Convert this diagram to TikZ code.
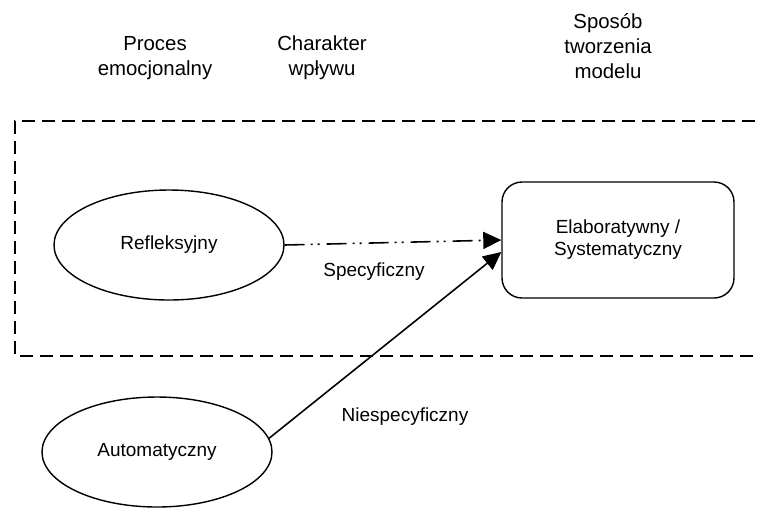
\documentclass[tikz,border=0pt]{standalone}
\usepackage{fontspec}
\setmainfont{Liberation Sans}
\usetikzlibrary{arrows.meta,shapes.geometric}
\tikzset{
  every node/.style={font=\fontsize{10.8}{12.5}\selectfont, text=black},
  head/.style={font=\fontsize{11.6}{14.2}\selectfont, align=center, inner sep=0pt},
  proc/.style={ellipse, draw, line width=0.8pt, minimum width=4.6cm, minimum height=2.2cm, inner sep=0pt},
  mbox/.style={draw, line width=0.8pt, rounded corners=0.4cm, minimum width=4.64cm, minimum height=2.32cm, align=center, inner sep=0pt},
  lbl/.style={inner sep=0pt},
  arr/.style={-{Triangle[length=0.36cm,width=0.34cm]}, line width=0.9pt},
  ddarr/.style={arr, dash pattern=on 0.4cm off 0.12cm on 0.04cm off 0.1cm on 0.04cm off 0.14cm},
  frame/.style={line width=1.1pt, dash pattern=on 0.26cm off 0.14cm},
}

\begin{document}
\begin{tikzpicture}[x=0.2mm,y=-0.2mm]
\useasboundingbox (0,0) rectangle (760,508);
% ---------------- column headers
\node[head] (hproc) at (155,58) {Proces\\emocjonalny};
\node[head] (hchar) at (322,58) {Charakter\\wpływu};
\node[head] (hmod) at (608,46) {Sposób\\tworzenia\\modelu};

% ---------------- frame (open on the right)
\draw[frame] (775,121) -- (15,121) -- (15,356) -- (775,356);

% ---------------- processes and model
\node[proc] (refl) at (169,245) {Refleksyjny};
\node[proc] (auto) at (157,452) {Automatyczny};
\node[mbox] (elab) at (618,240) {Elaboratywny /\\Systematyczny};

% ---------------- influences
\draw[ddarr] (refl.east) -- (elab.west);
\draw[arr] (auto.7) -- ([yshift=-0.24cm]elab.west);
\node[lbl] (spec) at (374,272) {Specyficzny};
\node[lbl] (nspec) at (405,417) {Niespecyficzny};
\end{tikzpicture}
\end{document}
